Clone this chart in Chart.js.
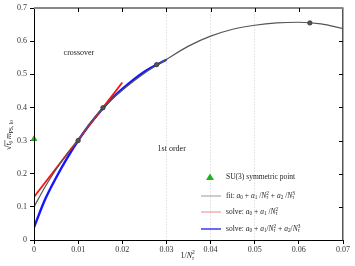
<!DOCTYPE html>
<html><head><meta charset="utf-8">
<script src="https://cdn.jsdelivr.net/npm/chart.js@4.4.1/dist/chart.umd.min.js"></script>
<style>html,body{margin:0;padding:0;background:#fff}#wrap{width:355px;height:266px;position:relative}</style>
</head><body><div id="wrap"><canvas id="c" width="355" height="266"></canvas></div>
<script>
// ---- data ----
const xTickValues = [0, 0.01, 0.02, 0.03, 0.04, 0.05, 0.06, 0.07];
const xTickLabels = ['0', '0.01', '0.02', '0.03', '0.04', '0.05', '0.06', '0.07'];
const yTickValues = [0, 0.1, 0.2, 0.3, 0.4, 0.5, 0.6, 0.7];
const yTickLabels = ['0', '0.1', '0.2', '0.3', '0.4', '0.5', '0.6', '0.7'];
const gridLineValues = [0.03, 0.04, 0.05];

const fitX = [0, 0.0025, 0.005, 0.0075, 0.01, 0.0125, 0.015, 0.0175, 0.02, 0.025, 0.03, 0.035, 0.04, 0.045, 0.05, 0.055, 0.06, 0.065, 0.07];
const fitY = [0.100, 0.160, 0.213, 0.260, 0.300, 0.348, 0.390, 0.423, 0.452, 0.503, 0.545, 0.585, 0.615, 0.636, 0.648, 0.655, 0.657, 0.652, 0.638];

const solve1X = [0, 0.02];
const solve1Y = [0.13, 0.475];

const solve2X = [0, 0.0025, 0.005, 0.0075, 0.01, 0.0125, 0.015, 0.0175, 0.02, 0.025, 0.03];
const solve2Y = [0.038, 0.122, 0.188, 0.247, 0.300, 0.347, 0.388, 0.425, 0.456, 0.508, 0.544];

const latticeX = [0.01, 0.015625, 0.027778, 0.0625];
const latticeY = [0.300, 0.399, 0.529, 0.655];

const su3X = [0];
const su3Y = [0.305];

const regionNames = ['crossover', '1st order'];

const legendLabels = ['SU(3) symmetric point', 'fit', 'solve', 'solve'];
// --------------------------------------

const FONT = '"Liberation Serif", "DejaVu Serif", serif';
const pts = (xs, ys) => xs.map((x, i) => ({x, y: ys[i]}));

function rich(ctx, x, y, parts, fs) {
  let cx = x;
  ctx.textBaseline = 'middle';
  ctx.textAlign = 'left';
  for (const p of parts) {
    const [t, m, t2] = p;
    const it = m.includes('i') ? 'italic ' : '';
    if (m === 'n' || m === 'i') {
      ctx.font = it + fs + 'px ' + FONT;
      ctx.fillText(t, cx, y);
      cx += ctx.measureText(t).width;
    } else if (m.startsWith('b') && t2 !== undefined) {
      const sfs = fs * 0.7;
      ctx.font = (m.includes('i') ? 'italic ' : '') + sfs + 'px ' + FONT;
      const w1 = ctx.measureText(t).width;
      ctx.fillText(t, cx, y + fs * 0.28);
      ctx.font = sfs + 'px ' + FONT;
      const w2 = ctx.measureText(t2).width;
      ctx.fillText(t2, cx, y - fs * 0.38);
      cx += Math.max(w1, w2);
    } else if (m.startsWith('b')) {
      ctx.font = it + (fs * 0.7) + 'px ' + FONT;
      ctx.fillText(t, cx, y + fs * 0.28);
      cx += ctx.measureText(t).width;
    } else if (m.startsWith('p')) {
      ctx.font = it + (fs * 0.7) + 'px ' + FONT;
      ctx.fillText(t, cx, y - fs * 0.38);
      cx += ctx.measureText(t).width;
    }
  }
  return cx;
}

const decor = {
  id: 'decor',
  afterDatasetsDraw(chart) {
    const ctx = chart.ctx;
    const a = chart.chartArea;
    const xs = chart.scales.x, ys = chart.scales.y;
    ctx.save();
    // frame
    ctx.lineWidth = 1;
    ctx.strokeStyle = '#000';
    ctx.beginPath();
    ctx.moveTo(a.left + 0.5, a.top); ctx.lineTo(a.left + 0.5, a.bottom + 0.5);
    ctx.lineTo(a.right, a.bottom + 0.5);
    ctx.stroke();
    ctx.strokeStyle = '#555';
    ctx.lineWidth = 1.5;
    ctx.beginPath();
    ctx.moveTo(a.right - 0.25, a.top); ctx.lineTo(a.right - 0.25, a.bottom + 0.5);
    ctx.stroke();
    ctx.strokeStyle = '#888';
    ctx.lineWidth = 2;
    ctx.beginPath();
    ctx.moveTo(a.left, a.top); ctx.lineTo(a.right + 0.5, a.top);
    ctx.stroke();
    // inward ticks top and right
    ctx.strokeStyle = '#000';
    ctx.lineWidth = 1;
    ctx.beginPath();
    xTickValues.forEach(v => {
      const px = Math.round(xs.getPixelForValue(v)) + 0.5;
      if (v > 0 && v < 0.07) { ctx.moveTo(px, a.top); ctx.lineTo(px, a.top + 4); }
    });
    yTickValues.forEach(v => {
      const py = Math.round(ys.getPixelForValue(v)) + 0.5;
      if (v > 0 && v < 0.7) { ctx.moveTo(a.right, py); ctx.lineTo(a.right - 4, py); }
    });
    ctx.stroke();

    // region labels
    ctx.fillStyle = '#222';
    ctx.font = '8px ' + FONT;
    ctx.textBaseline = 'middle';
    ctx.textAlign = 'left';
    ctx.fillText(regionNames[0], xs.getPixelForValue(0.0067), ys.getPixelForValue(0.563));
    ctx.fillText(regionNames[1], xs.getPixelForValue(0.028), ys.getPixelForValue(0.276));

    // legend
    const lx0 = 201, lx1 = 221, tx = 226;
    const rows = [177, 196, 212, 229];
    ctx.fillStyle = '#1db31d';
    ctx.beginPath();
    ctx.moveTo(210, rows[0] - 3.5); ctx.lineTo(214, rows[0] + 3); ctx.lineTo(206, rows[0] + 3); ctx.closePath();
    ctx.fill();
    const lcols = ['#aaaaaa', '#f59a9a', '#6a6af5'];
    const lw = [1.2, 1.2, 2];
    for (let i = 0; i < 3; i++) {
      ctx.strokeStyle = lcols[i];
      ctx.lineWidth = lw[i];
      ctx.beginPath();
      ctx.moveTo(lx0, rows[i + 1]); ctx.lineTo(lx1, rows[i + 1]);
      ctx.stroke();
    }
    ctx.fillStyle = '#222';
    const fs = 7.5;
    rich(ctx, tx, rows[0], [[legendLabels[0], 'n']], fs);
    rich(ctx, tx, rows[1], [[legendLabels[1] + ': ', 'n'], ['a', 'i'], ['0', 'b'], [' + ', 'n'], ['a', 'i'], ['1', 'b'], [' /', 'n'], ['N', 'i'], ['τ', 'bi', '2'], [' + ', 'n'], ['a', 'i'], ['2', 'b'], [' /', 'n'], ['N', 'i'], ['τ', 'bi', '3']], fs);
    rich(ctx, tx, rows[2], [[legendLabels[2] + ': ', 'n'], ['a', 'i'], ['0', 'b'], [' + ', 'n'], ['a', 'i'], ['1', 'b'], [' /', 'n'], ['N', 'i'], ['τ', 'bi', '2']], fs);
    rich(ctx, tx, rows[3], [[legendLabels[3] + ': ', 'n'], ['a', 'i'], ['0', 'b'], [' + ', 'n'], ['a', 'i'], ['1', 'b'], ['/', 'n'], ['N', 'i'], ['τ', 'bi', '2'], [' + ', 'n'], ['a', 'i'], ['2', 'b'], ['/', 'n'], ['N', 'i'], ['τ', 'bi', '3']], fs);

    // x axis title
    const xc = (a.left + a.right) / 2 - 8;
    rich(ctx, xc, 256, [['1/', 'n'], ['N', 'i'], ['τ', 'bi', '2']], 8);

    // y axis title (rotated)
    ctx.save();
    ctx.translate(9, 126);
    ctx.rotate(-Math.PI / 2);
    const start = -24;
    ctx.font = '8px ' + FONT;
    ctx.fillText('√', start, 0);
    const sw = ctx.measureText('√').width;
    const endT = rich(ctx, start + sw, 0, [['t', 'i'], ['0', 'b']], 8);
    ctx.strokeStyle = '#222';
    ctx.lineWidth = 0.6;
    ctx.beginPath();
    ctx.moveTo(start + sw - 0.5, -4.2); ctx.lineTo(endT + 0.5, -4.2);
    ctx.stroke();
    rich(ctx, endT + 1.5, 0, [['m', 'i'], ['PS, lo', 'b']], 8);
    ctx.restore();

    ctx.restore();
  }
};

new Chart(document.getElementById('c'), {
  type: 'scatter',
  data: {
    datasets: [
      { label: 'lattice', data: pts(latticeX, latticeY), showLine: false, pointStyle: 'circle', pointRadius: 2.2, backgroundColor: '#555', borderColor: '#333', borderWidth: 0.8, order: 0 },
      { label: legendLabels[0], data: pts(su3X, su3Y), showLine: false, pointStyle: 'triangle', pointRadius: 4, backgroundColor: '#1db31d', borderColor: '#1db31d', borderWidth: 0, order: 0, clip: false },
      { label: 'fit', data: pts(fitX, fitY), showLine: true, pointRadius: 0, borderColor: '#555', borderWidth: 1.2, cubicInterpolationMode: 'monotone', order: 1 },
      { label: 'solve1', data: pts(solve1X, solve1Y), showLine: true, pointRadius: 0, borderColor: '#ff1010', borderWidth: 1.8, order: 2 },
      { label: 'solve2', data: pts(solve2X, solve2Y), showLine: true, pointRadius: 0, borderColor: '#1515ff', borderWidth: 2.4, cubicInterpolationMode: 'monotone', order: 3 }
    ]
  },
  options: {
    responsive: false,
    animation: false,
    layout: { padding: { top: 8, right: 12, left: 0, bottom: 0 } },
    plugins: { legend: { display: false }, tooltip: { enabled: false } },
    scales: {
      x: {
        type: 'linear', min: 0, max: 0.07,
        afterBuildTicks: s => { s.ticks = xTickValues.map(v => ({value: v})); },
        afterFit: s => { s.height = 26; },
        ticks: { callback: (v) => xTickLabels[xTickValues.findIndex(t => Math.abs(t - v) < 1e-9)], font: { family: FONT, size: 8 }, color: '#333', padding: 1, maxRotation: 0 },
        grid: { color: c => (c.tick && gridLineValues.some(g => Math.abs(g - c.tick.value) < 1e-9)) ? '#e6e6e6' : 'rgba(0,0,0,0)', tickColor: '#000', tickLength: 4, lineWidth: 1 },
        border: { display: false, dash: [2, 1] }
      },
      y: {
        type: 'linear', min: 0, max: 0.7,
        afterBuildTicks: s => { s.ticks = yTickValues.map(v => ({value: v})); },
        afterFit: s => { s.width = 34; },
        ticks: { callback: (v) => yTickLabels[yTickValues.findIndex(t => Math.abs(t - v) < 1e-9)], font: { family: FONT, size: 8 }, color: '#333', padding: 3 },
        grid: { color: 'rgba(0,0,0,0)', tickColor: '#000', tickLength: 4, lineWidth: 1 },
        border: { display: false }
      }
    }
  },
  plugins: [decor]
});
</script>
</body></html>
